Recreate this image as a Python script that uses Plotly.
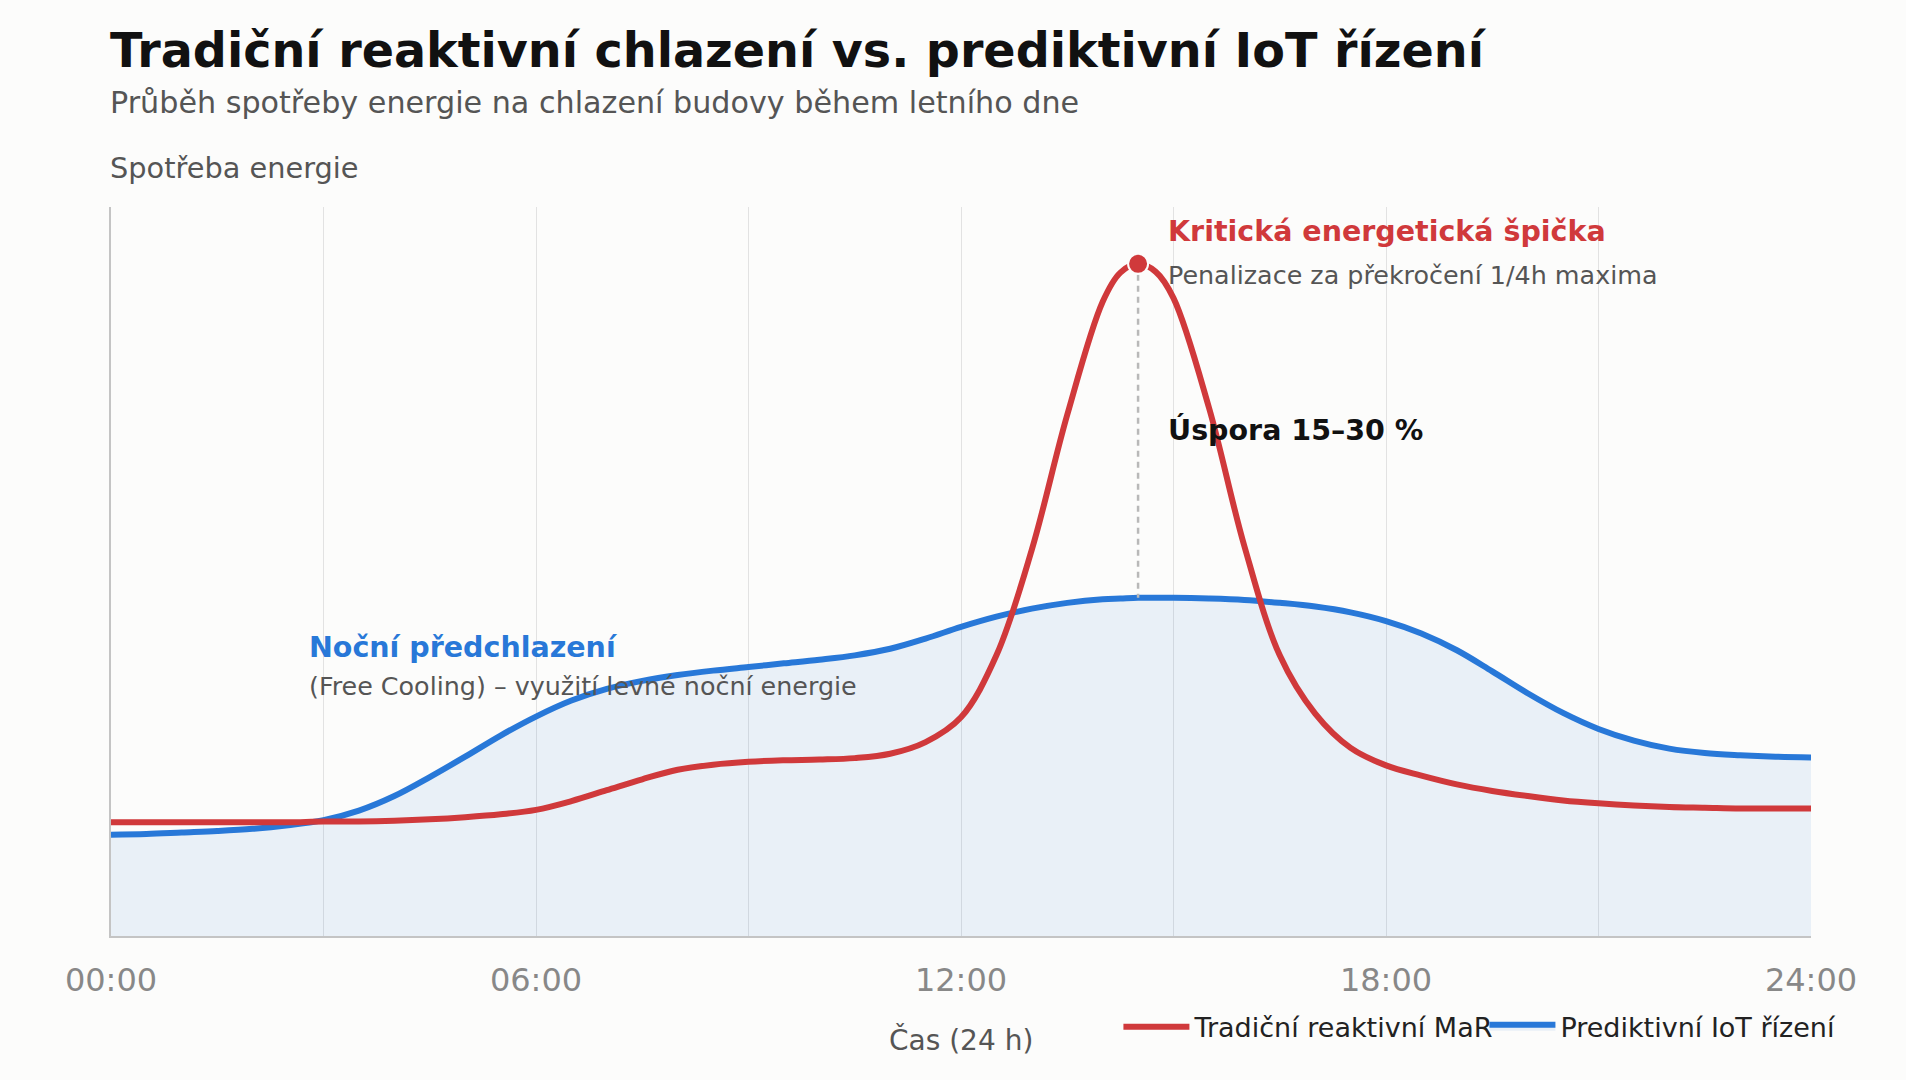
import plotly.graph_objects as go

# hodiny dne (po půlhodinách, kolem špičky jemněji)
hours = [0, 0.5, 1, 1.5, 2, 2.5, 3, 3.5, 4, 4.5, 5, 5.5, 6, 6.5, 7, 7.5, 8, 8.5, 9, 9.5,
         10, 10.5, 11, 11.5, 12, 12.5, 13, 13.5, 14, 14.25, 14.5, 14.75, 15, 15.5, 16, 16.5,
         17, 17.5, 18, 18.5, 19, 19.5, 20, 20.5, 21, 21.5, 22, 22.5, 23, 23.5, 24]

# tradiční reaktivní MaR
traditional = [15.6, 15.6, 15.6, 15.6, 15.6, 15.6, 15.7, 15.7, 15.8, 16.0,
               16.3, 16.7, 17.3, 18.5, 20.0, 21.5, 22.8, 23.5, 23.9, 24.1,
               24.2, 24.4, 25.0, 26.6, 30.0, 38.5, 53.0, 71.5, 87.0, 91.0, 92.2,
               91.1, 87.5, 72.5, 53.5, 38.5, 30.5, 25.8, 23.4, 22.0, 20.8, 19.9,
               19.2, 18.6, 18.2, 17.9, 17.7, 17.6, 17.5, 17.5, 17.5]

# prediktivní IoT řízení
predictive = [13.9, 14.0, 14.2, 14.4, 14.7, 15.2, 15.9, 17.2, 19.2, 21.8,
              24.6, 27.5, 30.1, 32.3, 33.9, 35.0, 35.8, 36.4, 36.9, 37.4,
              37.9, 38.5, 39.4, 40.8, 42.4, 43.8, 44.9, 45.7, 46.2, 46.3, 46.4,
              46.4, 46.4, 46.3, 46.1, 45.7, 45.2, 44.4, 43.2, 41.5, 39.2, 36.3,
              33.3, 30.6, 28.4, 26.8, 25.7, 25.1, 24.8, 24.6, 24.5]

peak_x = 14.5
peak_y = 92.2
peak_pred = 46.4

tick_vals = [0, 6, 12, 18, 24]
tick_text = ["00:00", "06:00", "12:00", "18:00", "24:00"]

RED = "#d0393b"
BLUE = "#2878d8"
FONT = "DejaVu Sans"

fig = go.Figure()

fig.add_scatter(x=hours, y=predictive, mode="lines", line=dict(color=BLUE, width=6, shape="spline"),
                fill="tozeroy", fillcolor="rgba(40,120,216,0.09)", name="Prediktivní IoT řízení",
                legendrank=2)

fig.add_scatter(x=[peak_x, peak_x], y=[peak_y, peak_pred], mode="lines",
                line=dict(color="#b8b8b8", width=2.5, dash="6px,5px"), showlegend=False, hoverinfo="skip")

fig.add_scatter(x=hours, y=traditional, mode="lines", line=dict(color=RED, width=6, shape="spline"),
                name="Tradiční reaktivní MaR", legendrank=1)

fig.add_scatter(x=[peak_x], y=[peak_y], mode="markers",
                marker=dict(color=RED, size=20, line=dict(color="#fcfcfb", width=2)),
                showlegend=False)

annots = [
    # nadpisy
    dict(xref="paper", yref="paper", x=-0.002, y=1.214, text="<b>Tradiční reaktivní chlazení vs. prediktivní IoT řízení</b>",
         font=dict(size=47.6, color="#111111")),
    dict(xref="paper", yref="paper", x=-0.002, y=1.143, text="Průběh spotřeby energie na chlazení budovy během letního dne",
         font=dict(size=30.2, color="#555555")),
    dict(xref="paper", yref="paper", x=-0.002, y=1.0535, text="Spotřeba energie",
         font=dict(size=28.8, color="#555555")),
    dict(xref="paper", yref="paper", x=0.5, y=-0.1427, xanchor="center", text="Čas (24 h)",
         font=dict(size=28, color="#555555")),
    # popisky v grafu
    dict(x=14.89, y=96.6, text="<b>Kritická energetická špička</b>", font=dict(size=28.5, color=RED)),
    dict(x=14.89, y=90.7, text="Penalizace za překročení 1/4h maxima", font=dict(size=25.4, color="#555555")),
    dict(x=14.89, y=69.4, text="<b>Úspora 15–30 %</b>", font=dict(size=28.5, color="#111111")),
    dict(x=2.76, y=39.6, text="<b>Noční předchlazení</b>", font=dict(size=28.5, color=BLUE)),
    dict(x=2.76, y=34.3, text="(Free Cooling) – využití levné noční energie", font=dict(size=25.4, color="#555555")),
]
for a in annots:
    a.setdefault("xanchor", "left")
    a["yanchor"] = "middle"
    a["showarrow"] = False
    fig.add_annotation(**a)

fig.update_layout(
    width=1906, height=1080,
    margin=dict(l=111, r=95, t=207, b=144),
    paper_bgcolor="#fcfcfb", plot_bgcolor="#fcfcfb",
    font=dict(family=FONT, color="#222222"),
    showlegend=True,
    legend=dict(orientation="h", x=0.5926, xanchor="left", y=-0.125, yanchor="middle",
                font=dict(size=27, color="#222222"), bgcolor="rgba(0,0,0,0)",
                itemwidth=66, entrywidth=285),
    hovermode=False,
)

fig.update_xaxes(range=[0, 24], tickvals=tick_vals, ticktext=tick_text,
                 tickfont=dict(size=32, color="#888888"), ticklabelstandoff=15,
                 showgrid=True, gridcolor="#e2e2e2", gridwidth=1,
                 minor=dict(dtick=3, showgrid=True, gridcolor="#e2e2e2", gridwidth=1),
                 showline=True, linecolor="#c4c4c4", linewidth=2, zeroline=False, fixedrange=True)
fig.update_yaxes(range=[0, 100], showticklabels=False, showgrid=False, zeroline=False,
                 showline=True, linecolor="#c4c4c4", linewidth=2, fixedrange=True)

fig.write_html("out.html", config={"displayModeBar": False},
               post_script="document.body.style.margin='0';")
